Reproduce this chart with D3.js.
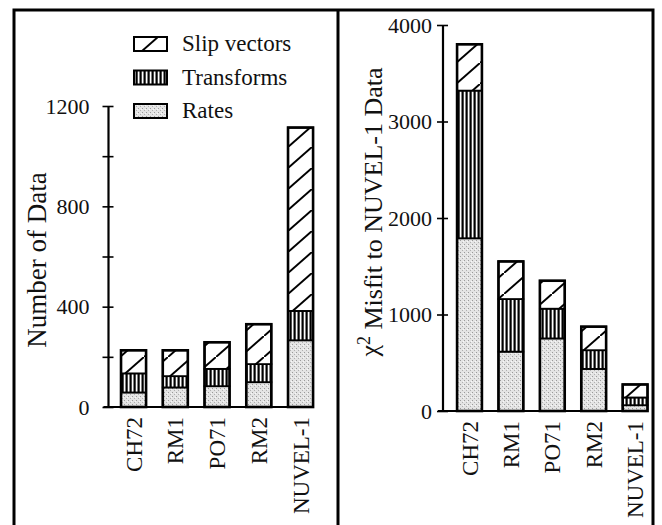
<!DOCTYPE html>
<html>
  <head>
    <meta charset="utf-8">
    <title>Data and misfit by model</title>
    <style>
      body { margin: 0; background: #fff; }
      text { font-family: "Liberation Serif", "Times New Roman", serif; fill: #111; }
    </style>
  </head>
  <body>
    <script src="https://d3js.org/d3.v7.min.js"></script>
    <script type="text/javascript">
      // data
      var models = ['CH72', 'RM1', 'PO71', 'RM2', 'NUVEL-1'];
      var seriesNames = ['Rates', 'Transforms', 'Slip vectors'];
      // number of data per model
      var countRates      = [58, 78, 83, 99, 266];
      var countTransforms = [76, 45, 69, 72, 117];
      var countSlip       = [92, 103, 106, 159, 731];
      // chi^2 misfit to NUVEL-1 data
      var misfitRates      = [1790, 615, 752, 436, 60];
      var misfitTransforms = [1530, 545, 308, 194, 80];
      var misfitSlip       = [480, 390, 290, 244, 135];
      var countTicks = [0, 200, 400, 600, 800, 1000, 1200];
      var misfitTicks = [0, 1000, 2000, 3000, 4000];

      var w = 662, h = 525;
      var svg = d3.select('body').append('svg').attr('width', w).attr('height', h);

      // fill patterns
      var defs = svg.append('defs');
      var pSlip = defs.append('pattern').attr('id', 'slip')
        .attr('patternUnits', 'userSpaceOnUse').attr('width', 24).attr('height', 21);
      pSlip.append('rect').attr('width', 24).attr('height', 21).attr('fill', '#fff');
      pSlip.append('line').attr('x1', -2).attr('y1', 22.75).attr('x2', 26).attr('y2', -1.75)
        .attr('stroke', '#000').attr('stroke-width', 2);

      var pTr = defs.append('pattern').attr('id', 'transforms')
        .attr('patternUnits', 'userSpaceOnUse').attr('width', 4).attr('height', 4);
      pTr.append('rect').attr('width', 4).attr('height', 4).attr('fill', '#fff');
      pTr.append('rect').attr('x', 1.5).attr('width', 2.2).attr('height', 4).attr('fill', '#000');

      var pRates = defs.append('pattern').attr('id', 'rates')
        .attr('patternUnits', 'userSpaceOnUse').attr('width', 4).attr('height', 4);
      pRates.append('rect').attr('width', 4).attr('height', 4).attr('fill', '#e4e4e4');
      pRates.append('rect').attr('x', 0).attr('y', 0).attr('width', 1).attr('height', 1).attr('fill', '#9a9a9a');
      pRates.append('rect').attr('x', 2).attr('y', 2).attr('width', 1).attr('height', 1).attr('fill', '#b0b0b0');
      pRates.append('rect').attr('x', 3).attr('y', 1).attr('width', 1).attr('height', 1).attr('fill', '#f8f8f8');

      var fills = {'Rates': 'url(#rates)', 'Transforms': 'url(#transforms)', 'Slip vectors': 'url(#slip)'};

      // frame
      svg.append('path')
        .attr('d', 'M14,530 V10 H653 V530 M338,10 V530')
        .attr('fill', 'none').attr('stroke', '#000').attr('stroke-width', 3);

      function panel(opts) {
        var g = svg.append('g');
        var x = d3.scaleBand().domain(models).range(opts.xRange)
          .paddingInner(0.4).paddingOuter(opts.outer);
        var y = d3.scaleLinear().domain(opts.domain).range(opts.yRange);
        var rows = models.map(function(m, i) {
          return {model: m, 'Rates': opts.rates[i], 'Transforms': opts.transforms[i], 'Slip vectors': opts.slip[i]};
        });
        var stacked = d3.stack().keys(seriesNames)(rows);

        stacked.forEach(function(layer) {
          g.append('g').selectAll('rect')
            .data(layer)
            .enter()
            .append('rect')
            .attr('x', function(d) { return x(d.data.model); })
            .attr('y', function(d) { return y(d[1]); })
            .attr('width', x.bandwidth())
            .attr('height', function(d) { return y(d[0]) - y(d[1]); })
            .attr('fill', fills[layer.key])
            .attr('stroke', '#000')
            .attr('stroke-width', 1.8);
        });
        // heavy outline round each bar
        g.append('g').selectAll('rect')
          .data(stacked[2])
          .enter()
          .append('rect')
          .attr('x', function(d) { return x(d.data.model); })
          .attr('y', function(d) { return y(d[1]); })
          .attr('width', x.bandwidth())
          .attr('height', function(d) { return y(0) - y(d[1]); })
          .attr('fill', 'none')
          .attr('stroke', '#000')
          .attr('stroke-width', 2.6);

        // y axis with ticks crossing the line
        var ax = g.append('g')
          .attr('transform', 'translate(' + opts.xRange[0] + ',0)')
          .call(d3.axisLeft(y).tickValues(opts.ticks).tickSize(6).tickPadding(opts.pad)
            .tickFormat(function(d) { return opts.labelled(d) ? d : ''; }));
        ax.select('.domain').attr('stroke-width', 2.2).attr('d', 'M0,' + y(opts.domain[0]) + 'V' + y(opts.domain[1]));
        ax.selectAll('.tick line').attr('x1', 5).attr('stroke-width', 1.6);
        ax.selectAll('.tick text').style('font-size', '22px').style('font-family', '"Liberation Serif", serif');

        // baseline
        g.append('line')
          .attr('x1', opts.xRange[0] - 5).attr('x2', x(models[4]) + x.bandwidth())
          .attr('y1', y(0)).attr('y2', y(0))
          .attr('stroke', '#000').attr('stroke-width', 2.2);

        // category labels
        g.selectAll('.cat')
          .data(models)
          .enter()
          .append('text')
          .attr('class', 'cat')
          .attr('transform', function(d) {
            return 'translate(' + (x(d) + x.bandwidth() / 2) + ',' + (y(0) + 10) + ') rotate(-90)';
          })
          .attr('text-anchor', 'end')
          .attr('dy', '0.35em')
          .style('font-size', '23px')
          .text(function(d) { return d; });
        return g;
      }

      panel({
        xRange: [108.5, 325.6], outer: 0.3,
        domain: [0, 1200], yRange: [407, 106],
        rates: countRates, transforms: countTransforms, slip: countSlip,
        ticks: countTicks, pad: 13,
        labelled: function(d) { return d % 400 === 0; }
      });
      panel({
        xRange: [443, 661.6], outer: 0.34,
        domain: [0, 4000], yRange: [411, 25],
        rates: misfitRates, transforms: misfitTransforms, slip: misfitSlip,
        ticks: misfitTicks, pad: 5,
        labelled: function() { return true; }
      });

      // axis titles
      svg.append('text')
        .attr('transform', 'translate(46,260) rotate(-90)')
        .attr('text-anchor', 'middle')
        .style('font-size', '27px')
        .text('Number of Data');
      var t2 = svg.append('text')
        .attr('transform', 'translate(378,212) rotate(-90)')
        .attr('text-anchor', 'middle')
        .style('font-size', '26px');
      t2.append('tspan').text('\u03c7');
      t2.append('tspan').attr('dy', '-0.45em').style('font-size', '18px').text('2');
      t2.append('tspan').attr('dy', '0.45em').text(' Misfit to NUVEL-1 Data');

      // legend
      var legendNames = ['Slip vectors', 'Transforms', 'Rates'];
      var lg = svg.append('g').selectAll('g')
        .data(legendNames)
        .enter()
        .append('g')
        .attr('transform', function(d, i) { return 'translate(134,' + (37 + i * 33.5) + ')'; });
      lg.append('rect')
        .attr('width', 33).attr('height', 14)
        .attr('fill', function(d) { return fills[d]; })
        .attr('stroke', '#000').attr('stroke-width', 2);
      lg.append('text')
        .attr('x', 48).attr('y', 6).attr('dy', '0.35em')
        .style('font-size', '23px')
        .text(function(d) { return d; });
    </script>
  </body>
</html>
